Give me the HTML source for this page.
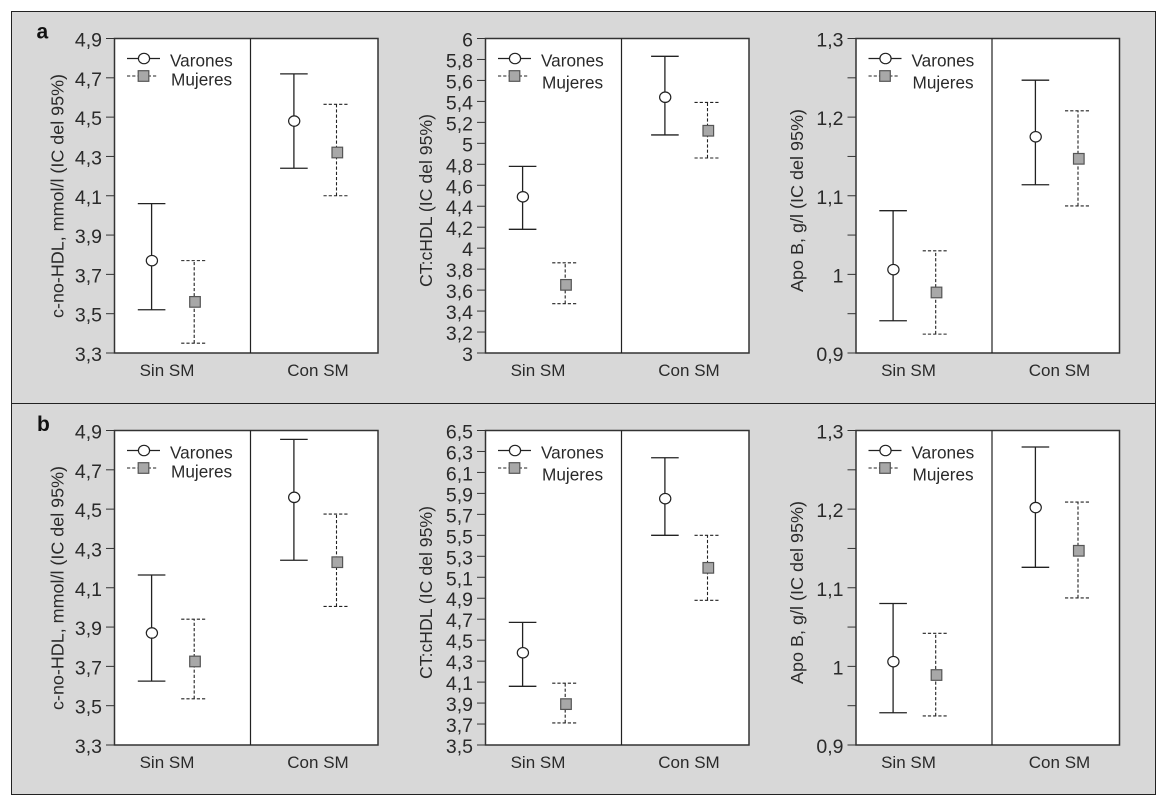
<!DOCTYPE html>
<html lang="es">
<head>
<meta charset="utf-8">
<title>c-no-HDL, CT:cHDL y Apo B</title>
<style>
html,body{margin:0;padding:0;background:#fff;width:1167px;height:801px;overflow:hidden}
svg{display:block;font-family:"Liberation Sans",sans-serif;fill:#2a2a2a}
</style>
</head>
<body>
<svg id="chart" xmlns="http://www.w3.org/2000/svg" width="1167" height="801" viewBox="0 0 1167 801">
  <rect x="11.5" y="11.5" width="1144" height="392" fill="#d8d8d8" stroke="#222" stroke-width="1"/>
  <rect x="11.5" y="403.5" width="1144" height="391" fill="#d8d8d8" stroke="#222" stroke-width="1"/>
  <text x="36.5" y="38.5" font-size="21" font-weight="bold" fill="#111">a</text>
  <text x="37" y="431" font-size="21" font-weight="bold" fill="#111">b</text>
</svg>
<script>
// ---- data ----
const categories = ['Sin SM', 'Con SM'];
const seriesNames = ['Varones', 'Mujeres'];
const yTitles = [
  'c-no-HDL, mmol/l (IC del 95%)', 'CT:cHDL (IC del 95%)', 'Apo B, g/l (IC del 95%)',
  'c-no-HDL, mmol/l (IC del 95%)', 'CT:cHDL (IC del 95%)', 'Apo B, g/l (IC del 95%)'
];
const noHdlTicks = [3.3, 3.5, 3.7, 3.9, 4.1, 4.3, 4.5, 4.7, 4.9];
const noHdlLabels = ['3,3', '3,5', '3,7', '3,9', '4,1', '4,3', '4,5', '4,7', '4,9'];
const ratioTicksA = [3, 3.2, 3.4, 3.6, 3.8, 4, 4.2, 4.4, 4.6, 4.8, 5, 5.2, 5.4, 5.6, 5.8, 6];
const ratioLabelsA = ['3', '3,2', '3,4', '3,6', '3,8', '4', '4,2', '4,4', '4,6', '4,8', '5', '5,2', '5,4', '5,6', '5,8', '6'];
const ratioTicksB = [3.5, 3.7, 3.9, 4.1, 4.3, 4.5, 4.7, 4.9, 5.1, 5.3, 5.5, 5.7, 5.9, 6.1, 6.3, 6.5];
const ratioLabelsB = ['3,5', '3,7', '3,9', '4,1', '4,3', '4,5', '4,7', '4,9', '5,1', '5,3', '5,5', '5,7', '5,9', '6,1', '6,3', '6,5'];
const apoTicks = [0.9, 0.95, 1, 1.05, 1.1, 1.15, 1.2, 1.25, 1.3];
const apoLabels = ['0,9', '', '1', '', '1,1', '', '1,2', '', '1,3'];
const panelTicks = [noHdlTicks, ratioTicksA, apoTicks, noHdlTicks, ratioTicksB, apoTicks];
const panelLabels = [noHdlLabels, ratioLabelsA, apoLabels, noHdlLabels, ratioLabelsB, apoLabels];
// one row per panel (a1, a2, a3, b1, b2, b3); each row = [Sin SM, Con SM]
const varonesMean = [[3.77, 4.48], [4.49, 5.44], [1.006, 1.175], [3.87, 4.56], [4.38, 5.85], [1.006, 1.202]];
const varonesLow  = [[3.52, 4.24], [4.18, 5.08], [0.941, 1.114], [3.625, 4.24], [4.06, 5.50], [0.941, 1.126]];
const varonesHigh = [[4.06, 4.72], [4.78, 5.83], [1.081, 1.247], [4.165, 4.855], [4.67, 6.24], [1.08, 1.279]];
const mujeresMean = [[3.56, 4.32], [3.65, 5.12], [0.977, 1.147], [3.725, 4.23], [3.89, 5.19], [0.989, 1.147]];
const mujeresLow  = [[3.35, 4.10], [3.47, 4.86], [0.924, 1.087], [3.535, 4.005], [3.71, 4.88], [0.937, 1.087]];
const mujeresHigh = [[3.77, 4.565], [3.86, 5.39], [1.03, 1.208], [3.94, 4.475], [4.09, 5.50], [1.042, 1.209]];

// ---- layout ----
const NS = 'http://www.w3.org/2000/svg';
const svg = document.getElementById('chart');
const INK = '#222';
const plotW = 263.5, plotH = 314.5, dividerAt = 136;
const lefts = [114.5, 485.5, 856];
const tops = [38.5, 430.5];

function mk(tag, attrs, parent) {
  const el = document.createElementNS(NS, tag);
  for (const k in attrs) el.setAttribute(k, attrs[k]);
  parent.appendChild(el);
  return el;
}
function xPos(left, cat, ser) {
  return left + 58.5 + cat * 142.3 + (ser === 0 ? -21.4 : 21.2);
}
function drawBar(g, x, yFn, mean, low, high, ser) {
  const dash = ser === 0 ? {} : {'stroke-dasharray': '3.2 2'};
  const sw = ser === 0 ? 1.3 : 1.1;
  const capHalf = ser === 0 ? 13.8 : 13;
  const stem = mk('line', Object.assign({x1: x, x2: x, y1: yFn(low), y2: yFn(high), stroke: INK, 'stroke-width': sw}, dash), g);
  
  
  const capTop = mk('line', Object.assign({x1: x - capHalf, x2: x + capHalf, y1: yFn(high), y2: yFn(high), stroke: INK, 'stroke-width': sw}, dash), g);
  
  
  const capLow = mk('line', Object.assign({x1: x - capHalf, x2: x + capHalf, y1: yFn(low), y2: yFn(low), stroke: INK, 'stroke-width': sw}, dash), g);
  
  
  drawMarker(g, ser === 0 ? x + 0.3 : x + 0.8, yFn(mean), ser);
}
function drawMarker(g, x, y, ser) {
  let m;
  if (ser === 0) {
    m = mk('ellipse', {cx: x, cy: y, rx: 5.6, ry: 5.2, fill: '#fff', stroke: INK, 'stroke-width': 1.2}, g);
    
  } else {
    m = mk('rect', {x: x - 5.3, y: y - 5.3, width: 10.6, height: 10.6, fill: '#a8a8a8', stroke: '#555', 'stroke-width': 1.2}, g);
    
  }
  
}

const titleCenterOffset = [157.5, 162, 162];
const titleLength = [244, 173, 183];
const titleXOffset = [51, 53.5, 53];

yTitles.forEach(function (title, p) {
  const col = p % 3, row = Math.floor(p / 3);
  const left = lefts[col], top = tops[row];
  const ticks = panelTicks[p], labels = panelLabels[p];
  const yMin = ticks[0], yMax = ticks[ticks.length - 1];
  const yFn = function (v) { return top + plotH - (v - yMin) / (yMax - yMin) * plotH; };

  const panel = mk('g', {}, svg);
  
  

  const frame = mk('rect', {x: left, y: top, width: plotW, height: plotH, fill: '#fff', stroke: '#333', 'stroke-width': 1.5}, panel);
  
  

  const divider = mk('line', {x1: left + dividerAt, x2: left + dividerAt, y1: top, y2: top + plotH, stroke: '#222', 'stroke-width': 1.2}, panel);
  
  

  ticks.forEach(function (t, i) {
    const y = yFn(t);
    const tick = mk('line', {x1: left - 8.5, x2: left, y1: y, y2: y, stroke: '#333', 'stroke-width': 1}, panel);
    
    
    if (labels[i]) {
      const lab = mk('text', {x: left - 12.5, y: y + 8, 'text-anchor': 'end', 'font-size': 19.5}, panel);
      
      
      lab.textContent = labels[i];
    }
  });

  const yt = mk('text', {x: 0, y: 0, transform: 'translate(' + (left - titleXOffset[col]) + ' ' + (top + titleCenterOffset[col]) + ') rotate(-90)', 'text-anchor': 'middle', 'font-size': 17.5, textLength: titleLength[col], lengthAdjust: 'spacingAndGlyphs'}, panel);
  
  
  yt.textContent = title;

  categories.forEach(function (c, i) {
    const cl = mk('text', {x: left + (i === 0 ? 52.5 : 203.5), y: top + plotH + 23, 'text-anchor': 'middle', 'font-size': 17}, panel);
    
    
    cl.textContent = c;

    const gV = mk('g', {}, panel);
    
    
    drawBar(gV, xPos(left, i, 0), yFn, varonesMean[p][i], varonesLow[p][i], varonesHigh[p][i], 0);

    const gM = mk('g', {}, panel);
    
    
    drawBar(gM, xPos(left, i, 1), yFn, mujeresMean[p][i], mujeresLow[p][i], mujeresHigh[p][i], 1);
  });

  // legend
  const legend = mk('g', {}, panel);
  
  
  const ly0 = top + 20, ly1 = top + 37.5;
  const line0 = mk('line', {x1: left + 12.5, x2: left + 45.5, y1: ly0, y2: ly0, stroke: INK, 'stroke-width': 1.2}, legend);
  
  
  drawMarker(legend, left + 29.5, ly0, 0);
  const line1 = mk('line', {x1: left + 12.5, x2: left + 43.5, y1: ly1, y2: ly1, stroke: INK, 'stroke-width': 1, 'stroke-dasharray': '3.2 2'}, legend);
  
  
  drawMarker(legend, left + 29, ly1, 1);
  const secondY = col === 0 ? top + 47 : top + 50;
  const t0 = mk('text', {x: left + 55.5, y: top + 28, 'font-size': 17.2}, legend);
  
  
  t0.textContent = seriesNames[0];
  const t1 = mk('text', {x: left + 56.5, y: secondY, 'font-size': 17.2}, legend);
  
  
  t1.textContent = seriesNames[1];
});
</script>
</body>
</html>
